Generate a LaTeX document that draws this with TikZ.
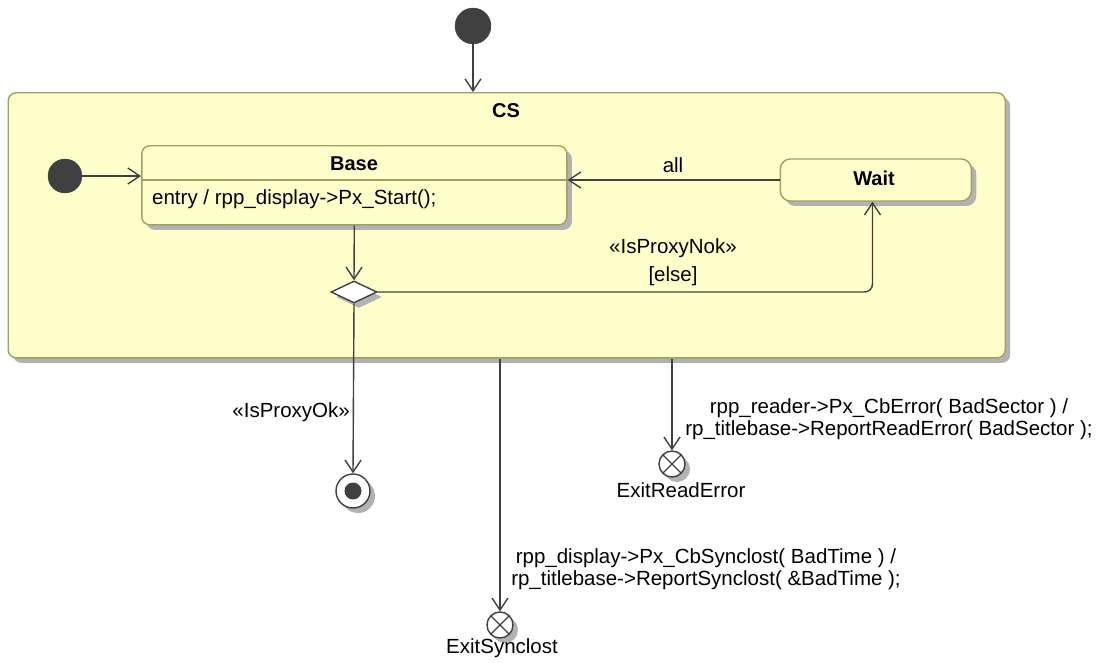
\documentclass[tikz,border=0pt]{standalone}
\usepackage{fontspec}
\setmainfont{Liberation Sans}
\usetikzlibrary{arrows.meta,shapes.geometric,shadows}
\definecolor{fillY}{RGB}{255,255,204}
\definecolor{bord}{RGB}{160,160,96}
\definecolor{shad}{RGB}{178,178,178}
\definecolor{ink}{RGB}{64,64,64}
\tikzset{
  shd/.style={drop shadow={shadow xshift=5pt,shadow yshift=-5pt,fill=shad,opacity=1}},
  statebox/.style={draw=bord,fill=fillY,line width=1.4pt,rounded corners=8pt,inner sep=0pt,shd},
  initnode/.style={circle,fill=ink,draw=ink,inner sep=0pt},
  conn/.style={draw=ink,line width=1.4pt,-{Straight Barb[length=12pt,width=16pt,line width=1.4pt]}},
  txt/.style={inner sep=0pt,text=black,font=\fontsize{20.5pt}{22pt}\selectfont},
  btxt/.style={txt,font=\fontsize{20pt}{22pt}\selectfont\bfseries},
  exitpt/.style={circle,draw=ink,fill=white,line width=1.4pt,minimum size=26pt,inner sep=0pt,shd,
    path picture={\draw[ink,line width=1.4pt] (path picture bounding box.south west) -- (path picture bounding box.north east)
      (path picture bounding box.north west) -- (path picture bounding box.south east);}},
}
\begin{document}
\begin{tikzpicture}[x=1pt,y=-1pt]
\useasboundingbox[fill=white] (0,0) rectangle (1101,663);
% composite state CS
\node[statebox,minimum width=997pt,minimum height=265pt] (cs) at (506.7,225.3) {};
\node[btxt] (cslab) at (506,111) {CS};
% Base
\node[statebox,minimum width=425pt,minimum height=79pt] (base) at (354.3,185.3) {};
\coordinate (divy) at (0,180);
\draw[bord,line width=1.4pt] (base.west |- divy) -- (base.east |- divy);
\node[btxt] (baselab) at (354,164) {Base};
\node[txt,anchor=west] (entry) at (152,199) {entry / rpp\_display->Px\_Start();};
% Wait
\node[statebox,rounded corners=10pt,minimum width=191pt,minimum height=42pt] (wait) at (875.8,180) {};
\node[btxt] (waitlab) at (874,178) {Wait};
\coordinate (waitin) at (872.5,0);
% initial states
\node[initnode,minimum size=36pt] (init0) at (473,26) {};
\node[initnode,minimum size=34pt] (init1) at (65,176) {};
% choice
\node[diamond,draw=ink,fill=white,line width=1.4pt,minimum width=46pt,minimum height=22pt,aspect=2.1,inner sep=0pt,shd] (dia) at (354,292) {};
% final
\node[circle,draw=ink,fill=white,line width=1.4pt,minimum size=34pt,inner sep=0pt,shd] (final) at (353,491) {};
\node[circle,fill=ink,minimum size=17pt,inner sep=0pt] (finaldot) at (final) {};
% exit points
\node[exitpt] (exitS) at (500,625) {};
\node[exitpt] (exitR) at (672,464) {};
\node[txt] (exitSlab) at (502,648) {ExitSynclost};
\node[txt] (exitRlab) at (681,490) {ExitReadError};
% connectors
\draw[conn] (init0) -- (init0 |- cs.north);
\draw[conn] (init1) -- (init1 -| base.west);
\draw[conn] (wait.west) -- (wait.west -| base.east);
\node[txt] (alllab) at (673,165) {all};
\draw[conn] (base.south) -- (dia.north);
\draw[conn,rounded corners=8pt] (dia.east) -- (dia.east -| waitin) -- (wait.south -| waitin);
\node[txt,align=center] (noklab) at (673,262.5) {«IsProxyNok»\\[6pt][else]};
\draw[conn] (dia.south) -- (final.north);
\node[txt,anchor=east] (oklab) at (350,412) {«IsProxyOk»};
\draw[conn] (exitS |- cs.south) -- (exitS.north);
\draw[conn] (exitR |- cs.south) -- (exitR.north);
\node[txt,align=center] (synclab) at (706,569) {rpp\_display->Px\_CbSynclost( BadTime ) /\\rp\_titlebase->ReportSynclost( \&BadTime );};
\node[txt,align=center] (readlab) at (889,419.5) {rpp\_reader->Px\_CbError( BadSector ) /\\rp\_titlebase->ReportReadError( BadSector );};
\end{tikzpicture}
\end{document}
